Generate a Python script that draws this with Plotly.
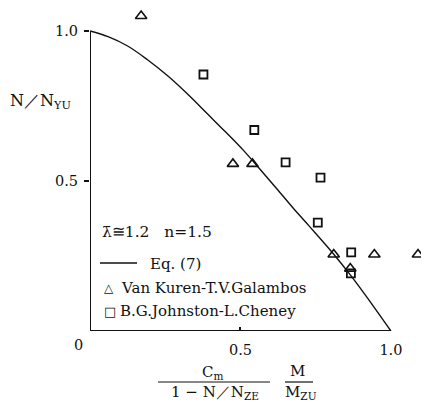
import plotly.graph_objects as go

# Eq. (7) interaction curve
curve_x = [0.0, 0.06, 0.125, 0.19, 0.26, 0.325, 0.39, 0.45, 0.51, 0.565, 0.62, 0.675, 0.73, 0.81, 0.865, 0.92, 1.0]
curve_y = [1.0, 0.981, 0.95, 0.905, 0.849, 0.789, 0.724, 0.664, 0.602, 0.539, 0.475, 0.41, 0.348, 0.256, 0.187, 0.113, 0.0]

# Van Kuren - T.V.Galambos test results
vk_x = [0.17, 0.475, 0.54, 0.81, 0.945, 1.09, 0.865]
vk_y = [1.05, 0.557, 0.557, 0.255, 0.255, 0.255, 0.208]

# B.G.Johnston - L.Cheney test results
bj_x = [0.377, 0.546, 0.65, 0.766, 0.757, 0.868, 0.867]
bj_y = [0.855, 0.67, 0.562, 0.511, 0.361, 0.262, 0.192]

x_ticks = [0.5, 1.0]
x_tick_text = ["0.5", "1.0"]
y_ticks = [0.5, 1.0]
y_tick_text = ["0.5", "1.0"]

W, H = 423, 405
L, R, T, B = 90, 2, 1, 74
PW, PH = W - L - R, H - T - B

SERIF = "DejaVu Serif"
INK = "#111111"


def px(x):
    return (x - L) / PW


def py(y):
    return (T + PH - y) / PH


fig = go.Figure()
fig.add_trace(go.Scatter(x=curve_x, y=curve_y, mode="lines", line=dict(color=INK, width=1.4, shape="spline"),
                         name="Eq. (7)", showlegend=False))
fig.add_trace(go.Scatter(x=vk_x, y=vk_y, mode="markers", name="Van Kuren-T.V.Galambos", showlegend=False,
                         marker=dict(symbol="triangle-up-open", size=10, color=INK, line=dict(width=1.6, color=INK))))
fig.add_trace(go.Scatter(x=bj_x, y=bj_y, mode="markers", name="B.G.Johnston-L.Cheney", showlegend=False,
                         marker=dict(symbol="square-open", size=8, color=INK, line=dict(width=1.8, color=INK))))

# axis lines stop at 1.0 on both axes
fig.add_shape(type="line", xref="x", yref="y", x0=0, x1=1.0, y0=0, y1=0, line=dict(color=INK, width=2))
fig.add_shape(type="line", xref="x", yref="y", x0=0, x1=0, y0=0, y1=1.0, line=dict(color=INK, width=2))

fig.update_xaxes(range=[0, 1.1], showgrid=False, zeroline=False, showline=False,
                 tickvals=x_ticks, ticktext=x_tick_text, ticks="",
                 minor=dict(tickvals=[0.5], ticks="inside", ticklen=4, tickwidth=1.5, tickcolor=INK),
                 tickfont=dict(family=SERIF, size=14.5, color=INK), ticklabelstandoff=8)
fig.update_yaxes(range=[0, 1.1], showgrid=False, zeroline=False, showline=False,
                 tickvals=y_ticks, ticktext=y_tick_text, ticks="outside", ticklen=5, tickwidth=2, tickcolor=INK,
                 tickfont=dict(family=SERIF, size=14.5, color=INK), ticklabelstandoff=3)


def note(text, x, y, size=14, xanchor="left", yanchor="middle"):
    fig.add_annotation(text=text, x=px(x), y=py(y), xref="paper", yref="paper", showarrow=False,
                       xanchor=xanchor, yanchor=yanchor, font=dict(family=SERIF, size=size, color=INK))


note("0", 78, 345, size=14.5, xanchor="center")
note("N／N<sub>YU</sub>", 8, 102, size=16)

# x-axis title: two fractions
note("C<sub>m</sub>", 212, 372, size=15, xanchor="center")
note("1 − N／N<sub>ZE</sub>", 215, 392, size=15, xanchor="center")
note("M", 297, 371, size=15, xanchor="center")
note("M<sub>ZU</sub>", 301, 392, size=15, xanchor="center")
for x0, x1 in [(158, 270), (285, 313)]:
    fig.add_shape(type="line", xref="paper", yref="paper", x0=px(x0), x1=px(x1), y0=py(382), y1=py(382),
                  line=dict(color=INK, width=1.2))

# key
note("λ̄≅1.2   n=1.5", 100, 232, size=15.5)
fig.add_shape(type="line", xref="paper", yref="paper", x0=px(100), x1=px(137), y0=py(263), y1=py(263),
              line=dict(color=INK, width=1.5))
note("Eq. (7)", 148, 264, size=15)
note("△", 109, 288, size=12, xanchor="center")
note("Van Kuren-T.V.Galambos", 119, 288, size=15)
note("□", 110, 311, size=13, xanchor="center")
note("B.G.Johnston-L.Cheney", 118, 311, size=15)

fig.update_layout(width=W, height=H, margin=dict(l=L, r=R, t=T, b=B),
                  paper_bgcolor="white", plot_bgcolor="white", showlegend=False)

fig.write_html("out.html")
